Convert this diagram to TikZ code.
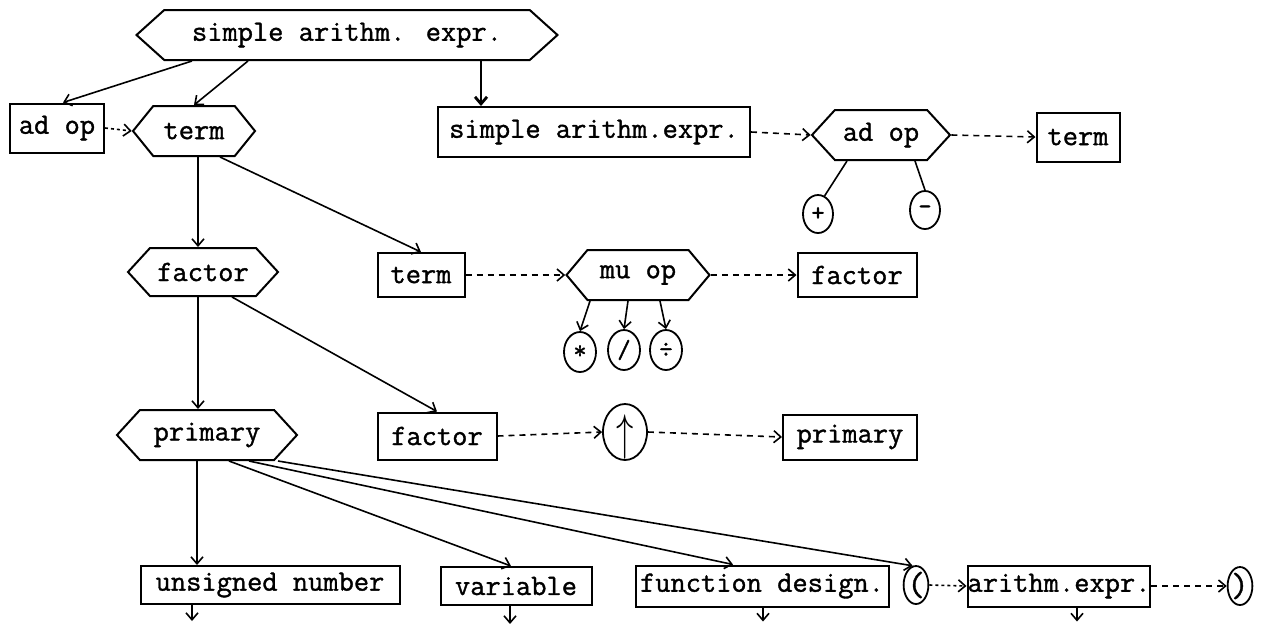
\documentclass[tikz,border=0pt]{standalone}
\usepackage{fontspec}
\newfontfamily\tw{Latin Modern Mono}[FakeBold=1.2]
\usetikzlibrary{shapes.symbols,shapes.geometric,arrows.meta}
\tikzset{
  lbl/.style={font=\tw\fontsize{14.8}{16}\selectfont},
  boxn/.style 2 args={draw, rectangle, line width=1pt, inner sep=0pt,
    minimum width=#1*0.5pt, minimum height=#2*0.5pt, lbl},
  hexn/.style 2 args={draw, signal, signal to=east and west, signal pointer angle=95,
    line width=1pt, inner sep=0pt, minimum width=#1*0.5pt, minimum height=#2*0.5pt, lbl},
  circ/.style 2 args={draw, ellipse, line width=0.9pt, inner sep=0pt,
    minimum width=#1*0.5pt, minimum height=#2*0.5pt, font=\tw\fontsize{13}{14}\selectfont},
  arr/.style={line width=0.8pt, -{Straight Barb[length=3.5pt,width=6pt]}},
  darr/.style={arr, dash pattern=on 3pt off 2.5pt},
  dotarr/.style={arr, dash pattern=on 1.5pt off 1.5pt},
  plain/.style={line width=0.8pt}
}
\begin{document}
\begin{tikzpicture}[x=0.5pt,y=-0.5pt]
\useasboundingbox (0,0) rectangle (1271,623);
% row 1
\node[hexn={421}{50}, signal pointer angle=84] (top) at (347,35) {simple arithm. expr.};
% row 2
\node[boxn={94}{49}] (adopA) at (57,128) {ad op};
\node[hexn={122}{50}, signal pointer angle=102] (termA) at (194,131) {term};
\node[boxn={312}{50}] (sae) at (594,132) {simple arithm.expr.};
\node[hexn={138}{50}] (adopB) at (881,135) {ad op};
\node[boxn={83}{49}] (termB) at (1078,137) {term};
\node[circ={30}{38}] (plus) at (818,214) {+};
\node[circ={30}{38}] (minus) at (925,210) {-};
% row 3
\node[hexn={150}{48}] (factorA) at (203,272) {factor};
\node[boxn={87}{44}] (termC) at (421,275) {term};
\node[hexn={143}{50}, signal pointer angle=100] (muop) at (638,275) {mu op};
\node[boxn={119}{44}] (factorB) at (857,275) {factor};
\node[circ={32}{40}] (star) at (580,352) {*};
\node[circ={32}{40}] (slash) at (624,350) {/};
\node[circ={32}{40}] (divi) at (666,350) {÷};
% row 4
\node[hexn={180}{50}] (primaryA) at (207,435) {primary};
\node[boxn={119}{47}] (factorC) at (437,436) {factor};
\node[circ={44}{56}, font=\fontsize{18}{20}\selectfont] (up) at (625,432)
  {\makebox[0pt]{\smash{\raisebox{-0.5\height}{\scalebox{1}[1.45]{$\uparrow$}}}}};
\node[boxn={134}{45}] (primaryB) at (850,437) {primary};
% row 5
\node[boxn={259}{38}] (unsigned) at (270,585) {unsigned number};
\node[boxn={151}{38}] (variable) at (516,586) {variable};
\node[boxn={253}{41}] (funcd) at (762,586) {function design.};
\node[circ={24}{38}, font=\tw\fontsize{17}{18}\selectfont] (lpar) at (916,585) {(};
\node[boxn={182}{41}] (aexpr) at (1059,586) {arithm.expr.};
\node[circ={24}{38}, font=\tw\fontsize{17}{18}\selectfont] (rpar) at (1240,586) {)};
% free ends
\coordinate (ue) at ([xshift=-39pt,yshift=-8pt]unsigned.south);
\coordinate (ve) at ([xshift=-3pt,yshift=-9pt]variable.south);
\coordinate (fe) at ([xshift=0.5pt,yshift=-7pt]funcd.south);
\coordinate (ae) at ([xshift=9pt,yshift=-7pt]aexpr.south);

% connectors
\draw[arr] ([xshift=-77.5pt]top.south) -- ([xshift=3pt]adopA.north);
\draw[arr] ([xshift=-49.5pt]top.south) -- (termA.north);
\draw[arr, line width=1.4pt] ([xshift=67pt]top.south) -- ([xshift=67pt]top.south |- sae.north);
\draw[dotarr] (adopA.east) -- (termA.west);
\draw[darr] (sae.east) -- (adopB.west);
\draw[darr] (adopB.east) -- (termB.west);
\draw[plain] ([xshift=-17pt]adopB.south) -- (plus.70);
\draw[plain] ([xshift=17pt]adopB.south) -- (minus.north);

\draw[arr] ([xshift=2pt]termA.south) -- ([xshift=2pt]termA.south |- factorA.north);
\draw[arr] ([xshift=13pt]termA.south) -- (termC.north);
\draw[darr] (termC.east) -- (muop.west);
\draw[darr] (muop.east) -- (factorB.west);
\draw[arr] ([xshift=-24pt]muop.south) -- (star.north);
\draw[arr] ([xshift=-5pt]muop.south) -- (slash.north);
\draw[arr] ([xshift=11pt]muop.south) -- (divi.north);

\draw[arr] ([xshift=-2.5pt]factorA.south) -- ([xshift=-2.5pt]factorA.south |- primaryA.north);
\draw[arr] ([xshift=14.5pt]factorA.south) -- (factorC.north);
\draw[darr] (factorC.east) -- (up.west);
\draw[darr] (up.east) -- (primaryB.west);

\draw[arr] ([xshift=-5pt]primaryA.south) -- ([xshift=-5pt]primaryA.south |- unsigned.north);
\draw[arr] ([xshift=11pt]primaryA.south) -- ([xshift=-2.5pt]variable.north);
\draw[arr] ([xshift=21pt]primaryA.south) -- ([xshift=-14.5pt]funcd.north);
\draw[arr] ([xshift=35.5pt]primaryA.south) -- (lpar.100);
\draw[dotarr] (lpar.east) -- (aexpr.west);
\draw[darr] (aexpr.east) -- (rpar.west);

\draw[arr] ([xshift=-39pt]unsigned.south) -- (ue);
\draw[arr] ([xshift=-3pt]variable.south) -- (ve);
\draw[arr] ([xshift=0.5pt]funcd.south) -- (fe);
\draw[arr] ([xshift=9pt]aexpr.south) -- (ae);
\end{tikzpicture}
\end{document}
